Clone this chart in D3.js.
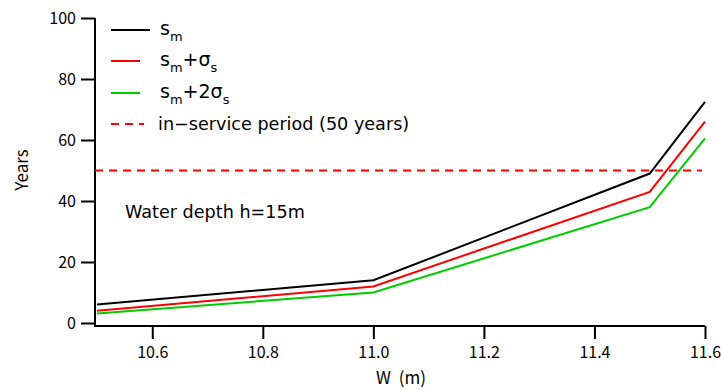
<!DOCTYPE html>
<html>
<head>
<meta charset="utf-8">
<script src="https://d3js.org/d3.v7.min.js"></script>
<style>
  body { margin: 0; background: #fff; }
  text { font-family: "Noto Sans CJK JP", "DejaVu Sans", sans-serif; fill: #000; }
  .wide { font-family: "DejaVu Sans", sans-serif; }
</style>
</head>
<body>
<svg id="chart" width="721" height="390"></svg>
<script>
// widths W (m)
const widths = [10.5, 11.0, 11.5, 11.6];
// years
const sMean = [6.1, 14, 49, 72.5];
const sPlusSigma = [4, 12, 43, 66];
const sPlus2Sigma = [3.1, 10, 38, 60.5];
const servicePeriod = 50;
const xTicks = [10.6, 10.8, 11.0, 11.2, 11.4, 11.6];
const yTicks = [0, 20, 40, 60, 80, 100];

const svg = d3.select('#chart');

const x = d3.scaleLinear().domain([10.5, 11.6]).range([97, 705]);
const y = d3.scaleLinear().domain([0, 100]).range([323, 18]);

// y axis
const yAxis = svg.append('g')
    .attr('transform', 'translate(95,0)')
    .call(d3.axisLeft(y).tickValues(yTicks).tickSize(14).tickPadding(5).tickFormat(d3.format('d')));
yAxis.select('.domain').attr('d', 'M0,' + y(100) + 'V326').attr('stroke-width', 2);
yAxis.selectAll('.tick line').attr('stroke-width', 2);
yAxis.selectAll('.tick text').attr('font-size', 16);

// x axis
const xAxis = svg.append('g')
    .attr('transform', 'translate(0,326)')
    .call(d3.axisBottom(x).tickValues(xTicks).tickSize(13).tickPadding(8).tickFormat(d3.format('.1f')));
xAxis.select('.domain').attr('d', 'M94,0H' + x(11.6)).attr('stroke-width', 2);
xAxis.selectAll('.tick line').attr('stroke-width', 2);
xAxis.selectAll('.tick text').attr('font-size', 16);

// axis titles
svg.append('text')
    .attr('transform', 'translate(28,170) rotate(-90)')
    .attr('text-anchor', 'middle')
    .attr('font-size', 17)
    .text('Years');
svg.append('text')
    .attr('x', 401).attr('y', 384)
    .attr('text-anchor', 'middle')
    .attr('font-size', 17)
    .attr('xml:space', 'preserve')
    .text('W  (m)');

// service period line
svg.append('line')
    .attr('x1', x(10.5) - 2).attr('x2', 702)
    .attr('y1', y(servicePeriod)).attr('y2', y(servicePeriod))
    .attr('stroke', '#ff0000').attr('stroke-width', 2)
    .attr('stroke-dasharray', '8,6');

const series = [
    { values: sMean, color: '#000000' },
    { values: sPlusSigma, color: '#ff0000' },
    { values: sPlus2Sigma, color: '#00cc00' }
];

const line = d3.line().x(d => x(d[0])).y(d => y(d[1]));

series.forEach(s => {
    svg.append('path')
        .datum(widths.map((w, i) => [w, s.values[i]]))
        .attr('d', line)
        .attr('fill', 'none')
        .attr('stroke', s.color)
        .attr('stroke-width', 2);
});

// legend
const legend = svg.append('g');
const rows = [
    { color: '#000000', dash: null, y: 30, x2: 150 },
    { color: '#ff0000', dash: null, y: 61, x2: 140 },
    { color: '#00cc00', dash: null, y: 93, x2: 140 },
    { color: '#ff0000', dash: '8,6', y: 124, x2: 144 }
];
rows.forEach(r => {
    legend.append('line')
        .attr('x1', 111).attr('x2', r.x2)
        .attr('y1', r.y).attr('y2', r.y)
        .attr('stroke', r.color).attr('stroke-width', 2)
        .attr('stroke-dasharray', r.dash);
});

function addSubText(t, parts) {
    parts.forEach(p => {
        t.append('tspan')
            .attr('font-size', p.sub ? 13 : 19)
            .attr('dy', p.dy || 0)
            .text(p.txt);
    });
}

let t1 = legend.append('text').attr('class', 'wide').attr('x', 160).attr('y', 35);
addSubText(t1, [{ txt: 's' }, { txt: 'm', sub: true, dy: 6 }]);

let t2 = legend.append('text').attr('class', 'wide').attr('x', 160).attr('y', 66);
addSubText(t2, [{ txt: 's' }, { txt: 'm', sub: true, dy: 6 }, { txt: '+σ', dy: -6 }, { txt: 's', sub: true, dy: 6 }]);

let t3 = legend.append('text').attr('class', 'wide').attr('x', 160).attr('y', 98);
addSubText(t3, [{ txt: 's' }, { txt: 'm', sub: true, dy: 6 }, { txt: '+2σ', dy: -6 }, { txt: 's', sub: true, dy: 6 }]);

legend.append('text').attr('class', 'wide').attr('x', 158).attr('y', 130)
    .attr('font-size', 17.6)
    .text('in\u2212service period (50 years)');

// annotation
svg.append('text')
    .attr('class', 'wide')
    .attr('x', 125).attr('y', 218)
    .attr('font-size', 17.6)
    .text('Water depth h=15m');
</script>
</body>
</html>
